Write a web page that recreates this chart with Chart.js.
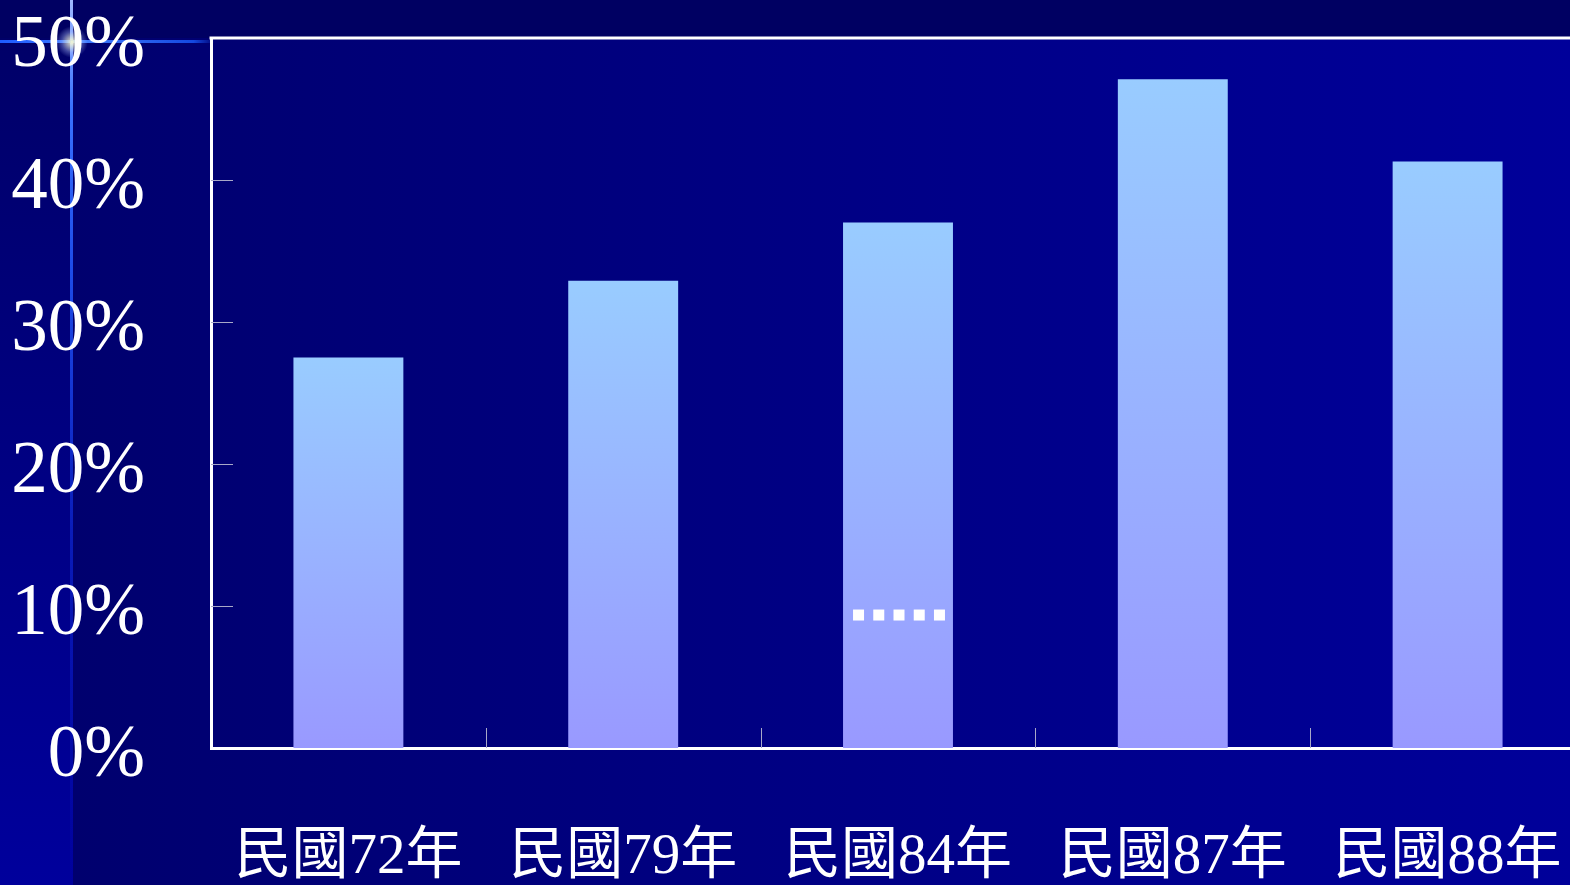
<!DOCTYPE html>
<html>
<head>
<meta charset="utf-8">
<script src="https://cdn.jsdelivr.net/npm/chart.js@4"></script>
<style>
    html, body { margin: 0; padding: 0; overflow: hidden; }
    body {
        width: 1570px; height: 885px; position: relative;
        background: linear-gradient(to right, #00006C, #00009A);
    }
    /* faixa escura do topo */
    .topo { position: absolute; left: 0; top: 0; width: 1570px; height: 38px; background: #000062; }
    /* faixa da esquerda */
    .esq { position: absolute; left: 0; top: 38px; width: 71px; height: 847px;
           background: linear-gradient(to bottom, #000068, #00009C); }
    .linhaH { position: absolute; left: 0; top: 40px; width: 215px; height: 3px;
              background: linear-gradient(to right, #1E5CFF, #3F7BFF 40%, #1448E0 90%, rgba(20,72,224,0)); }
    .linhaV { position: absolute; left: 70px; top: 0; width: 3px; height: 885px;
              background: linear-gradient(to bottom, #9FB8FF, #3A72FF 12%, #1E4CE8 30%, #0A1CB8 60%, #00009C); }
    .brilho { position: absolute; left: 56px; top: 26px; width: 32px; height: 32px; border-radius: 50%;
              background: radial-gradient(circle, rgba(255,255,210,0.95), rgba(180,200,255,0.35) 45%, rgba(0,0,0,0) 70%); }
    .wrap { position: absolute; left: 0; top: 0; width: 1600px; height: 885px; }
</style>
</head>
<body>
<div class="topo"></div>
<div class="esq"></div>
<div class="linhaV"></div>
<div class="linhaH"></div>
<div class="brilho"></div>
<div class="wrap"><canvas id="grafico"></canvas></div>

<script>
// dados do gráfico
var anos = ["民國72年", "民國79年", "民國84年", "民國87年", "民國88年"];
var valores = [27.5, 32.9, 37.0, 47.1, 41.3];
var marcaValor = 9.4;     // linha pontilhada na barra de 民國84年
var marcaIndice = 2;
var ticksY = [0, 10, 20, 30, 40, 50];

var ctx = document.getElementById("grafico");

// gradiente de cada barra (topo azul claro, base lilás)
function corBarra(context) {
    var chart = context.chart;
    if (!chart.chartArea || context.dataIndex === undefined) return '#9AB4FF';
    var y = chart.scales.y;
    var topo = y.getPixelForValue(context.raw);
    var base = y.getPixelForValue(0);
    var g = chart.ctx.createLinearGradient(0, topo, 0, base);
    g.addColorStop(0, '#99CCFF');
    g.addColorStop(1, '#9999FF');
    return g;
}

// tira o espaço extra que o Chart.js reserva para os rótulos
function semPadding(scale) {
    scale.paddingTop = 0;
    scale.paddingBottom = 0;
    scale.paddingLeft = 0;
    scale.paddingRight = 0;
}

// borda de cima, marcas dos eixos e linha pontilhada
var extras = {
    id: 'extras',
    afterDatasetsDraw: function (chart) {
        var c = chart.ctx;
        var area = chart.chartArea;
        var x = chart.scales.x;
        var y = chart.scales.y;
        c.save();

        // marcas do eixo Y (para dentro)
        c.strokeStyle = '#A8A8C8';
        c.lineWidth = 1;
        ticksY.forEach(function (v) {
            if (v === 0 || v === 50) return;
            var py = Math.round(y.getPixelForValue(v)) + 0.5;
            c.beginPath();
            c.moveTo(area.left, py);
            c.lineTo(area.left + 22, py);
            c.stroke();
        });

        // marcas do eixo X entre as categorias
        for (var i = 0; i < anos.length - 1; i++) {
            var px = Math.round((x.getPixelForValue(i) + x.getPixelForValue(i + 1)) / 2) + 0.5;
            c.beginPath();
            c.moveTo(px, area.bottom);
            c.lineTo(px, area.bottom - 20);
            c.stroke();
        }

        // borda superior
        c.strokeStyle = '#FFFFFF';
        c.lineWidth = 3;
        c.beginPath();
        c.moveTo(area.left - 1.5, area.top);
        c.lineTo(chart.width, area.top);
        c.stroke();

        // linha pontilhada
        var barra = chart.getDatasetMeta(0).data[marcaIndice];
        var my = y.getPixelForValue(marcaValor);
        var ini = barra.x - barra.width / 2 + 10;
        var fim = barra.x + barra.width / 2 - 8;
        c.fillStyle = '#FFFFFF';
        for (var k = 0; k < 5; k++) {
            var qx = ini + k * (fim - ini - 11) / 4;
            c.fillRect(qx, my - 5, 11, 11);
        }
        c.restore();
    }
};

var grafico = new Chart(ctx, {
    type: 'bar',
    data: {
        labels: anos,
        datasets: [{
            data: valores,
            backgroundColor: corBarra,
            borderWidth: 0,
            barPercentage: 0.4,
            categoryPercentage: 1.0
        }]
    },
    options: {
        responsive: true,
        maintainAspectRatio: false,
        animation: false,
        devicePixelRatio: 1,
        layout: {
            padding: { top: 38, right: 15, bottom: 0, left: 0 }
        },
        plugins: {
            legend: { display: false },
            tooltip: { enabled: false }
        },
        scales: {
            x: {
                grid: { display: false, drawTicks: false },
                border: { display: true, color: '#FFFFFF', width: 3 },
                ticks: {
                    color: '#FFFFFF',
                    padding: 76,
                    font: { family: '"Liberation Serif", "Noto Sans CJK TC"', size: 57 }
                },
                afterFit: function (scale) {
                    scale.height = 137;
                    semPadding(scale);
                }
            },
            y: {
                min: 0,
                max: 50,
                grid: { display: false, drawTicks: false },
                border: { display: true, color: '#FFFFFF', width: 3 },
                ticks: {
                    stepSize: 10,
                    color: '#FFFFFF',
                    padding: 66,
                    labelOffset: 9,
                    font: { family: '"Liberation Serif"', size: 73 },
                    callback: function (v) { return v + '%'; }
                },
                afterFit: function (scale) {
                    scale.width = 211;
                    semPadding(scale);
                }
            }
        }
    },
    plugins: [extras]
});
</script>
</body>
</html>
